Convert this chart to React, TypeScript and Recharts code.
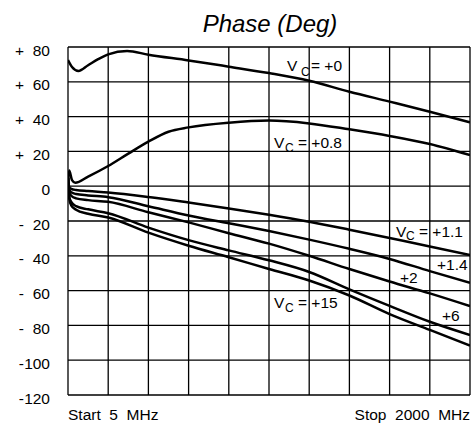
import React from 'react';
import { LineChart, Line, XAxis, YAxis, CartesianGrid } from 'recharts';

const title = 'Phase (Deg)';
const xTicks = [0, 1, 2, 3, 4, 5, 6, 7, 8, 9, 10];
const yTicks = [80, 60, 40, 20, 0, -20, -40, -60, -80, -100, -120];
const startLabel = 'Start  5  MHz';
const stopLabel = 'Stop  2000  MHz';

const vc0X = [0, 0.1, 0.26, 0.5, 0.75, 1, 1.47, 2, 3, 4, 5, 6, 7, 8, 9, 10];
const vc0Y = [72.5, 68.5, 66.2, 69.5, 73, 75.8, 77.7, 75.6, 72.3, 68.7, 65, 60.6, 54.3, 48.6, 42.8, 36.7];

const vc08X = [0, 0.03, 0.1, 0.18, 0.5, 1, 1.5, 2, 2.5, 3, 4, 5, 6, 7, 8, 9, 10];
const vc08Y = [3, 9, 3.5, 2, 5.5, 11.6, 18.7, 25.6, 31.3, 33.8, 36.5, 37.7, 36.1, 32.7, 28.9, 24.3, 17.9];

const lowX = [0, 0.03, 0.08, 0.2, 0.5, 1, 2, 3, 4, 5, 6, 7, 8, 9, 10];
const vc11Y = [5, -0.5, -1.5, -2.2, -2.8, -3.6, -6.2, -9.4, -12.8, -16.4, -20.4, -25, -29.8, -34.6, -39.5];
const vc14Y = [5, -2, -3.5, -4.5, -5.3, -6.3, -11.5, -16.8, -21.3, -25.8, -30.7, -36, -41.8, -48.8, -55.5];
const vc2Y = [5, -3.5, -5.5, -7, -8, -9, -15, -20.8, -27, -33, -40, -47.6, -54.8, -61.6, -68.9];
const vc6Y = [5, -6, -9, -11.5, -13.3, -15.5, -23.8, -31, -36.9, -42.6, -49.3, -59.3, -68.8, -77.9, -85.5];
const vc15Y = [5, -7, -11, -13.5, -15.8, -18, -26.7, -34.2, -40.8, -47.6, -54.2, -62.8, -73.5, -82.6, -91.6];

const toRows = (xs: number[], ys: number[]) => xs.map((x, i) => ({ x, y: ys[i] }));

const seriesList = [
  { name: 'Vc=+0', data: toRows(vc0X, vc0Y) },
  { name: 'Vc=+0.8', data: toRows(vc08X, vc08Y) },
  { name: 'Vc=+1.1', data: toRows(lowX, vc11Y) },
  { name: 'Vc=+1.4', data: toRows(lowX, vc14Y) },
  { name: 'Vc=+2', data: toRows(lowX, vc2Y) },
  { name: 'Vc=+6', data: toRows(lowX, vc6Y) },
  { name: 'Vc=+15', data: toRows(lowX, vc15Y) },
];

const FONT = '"Liberation Sans", Arial, sans-serif';
const FS = 15.5;

const YTick = (props: any) => {
  const { x, y, payload } = props;
  const v = payload.value as number;
  const sign = v > 0 ? '+' : v < 0 ? '-' : '';
  const num = String(Math.abs(v));
  return (
    <g>
      {sign && (
        <text x={x - 36} y={y + 8.5} textAnchor="end" fontFamily={FONT} fontSize={FS} fill="#000">
          {sign}
        </text>
      )}
      <text x={x - 10} y={y + 8.5} textAnchor="end" fontFamily={FONT} fontSize={FS} fill="#000">
        {num}
      </text>
    </g>
  );
};

const XTick = (props: any) => {
  const { x, y, payload } = props;
  const v = payload.value as number;
  if (v !== xTicks[0] && v !== xTicks[xTicks.length - 1]) return null;
  const first = v === xTicks[0];
  return (
    <text
      x={x}
      y={y + 17}
      textAnchor={first ? 'start' : 'end'}
      fontFamily={FONT}
      fontSize={FS}
      fill="#000"
      style={{ whiteSpace: 'pre' }}
    >
      {first ? startLabel : stopLabel}
    </text>
  );
};

const lbl = { fontFamily: FONT, fontSize: FS, fill: '#000' } as const;
const sub = { fontFamily: FONT, fontSize: 12, fill: '#000' } as const;

export default function App() {
  return (
    <div style={{ position: 'absolute', left: 0, top: 0, width: 471, height: 424, background: '#fff' }}>
      <LineChart width={471} height={424} margin={{ top: 47, right: 1, bottom: 0, left: 0 }}>
        <CartesianGrid stroke="#000" strokeWidth={1.3} />
        <XAxis
          dataKey="x"
          type="number"
          domain={[0, 10]}
          ticks={xTicks}
          allowDataOverflow
          height={29}
          tickLine={false}
          axisLine={false}
          interval={0}
          tick={<XTick />}
        />
        <YAxis
          type="number"
          domain={[-120, 80]}
          ticks={yTicks}
          width={68}
          tickLine={false}
          axisLine={false}
          interval={0}
          tick={<YTick />}
        />
        {seriesList.map((s) => (
          <Line
            key={s.name}
            data={s.data}
            dataKey="y"
            type="monotone"
            stroke="#000"
            strokeWidth={2.5}
            dot={false}
            isAnimationActive={false}
          />
        ))}
      </LineChart>
      <svg width={471} height={424} style={{ position: 'absolute', left: 0, top: 0, pointerEvents: 'none' }}>
        <text x={270} y={32} textAnchor="middle" fontFamily={FONT} fontSize={24} fontStyle="italic" fill="#000">
          {title}
        </text>
        <text x={287} y={71} {...lbl}>V</text>
        <text x={301} y={76} {...sub}>C</text>
        <text x={311} y={71} {...lbl}>= +0</text>

        <text x={274} y={148} {...lbl}>V</text>
        <text x={285} y={152} {...sub}>C</text>
        <text x={298} y={148} {...lbl}>= +0.8</text>

        <text x={396} y={237} {...lbl}>V</text>
        <text x={406} y={240} {...sub}>C</text>
        <text x={419} y={237} {...lbl}>= +1.1</text>

        <text x={437} y={270} {...lbl}>+1.4</text>
        <text x={400} y={283} {...lbl}>+2</text>

        <text x={274} y={308} {...lbl}>V</text>
        <text x={285} y={312} {...sub}>C</text>
        <text x={298} y={308} {...lbl}>= +15</text>

        <text x={442} y={321} {...lbl}>+6</text>
      </svg>
    </div>
  );
}
